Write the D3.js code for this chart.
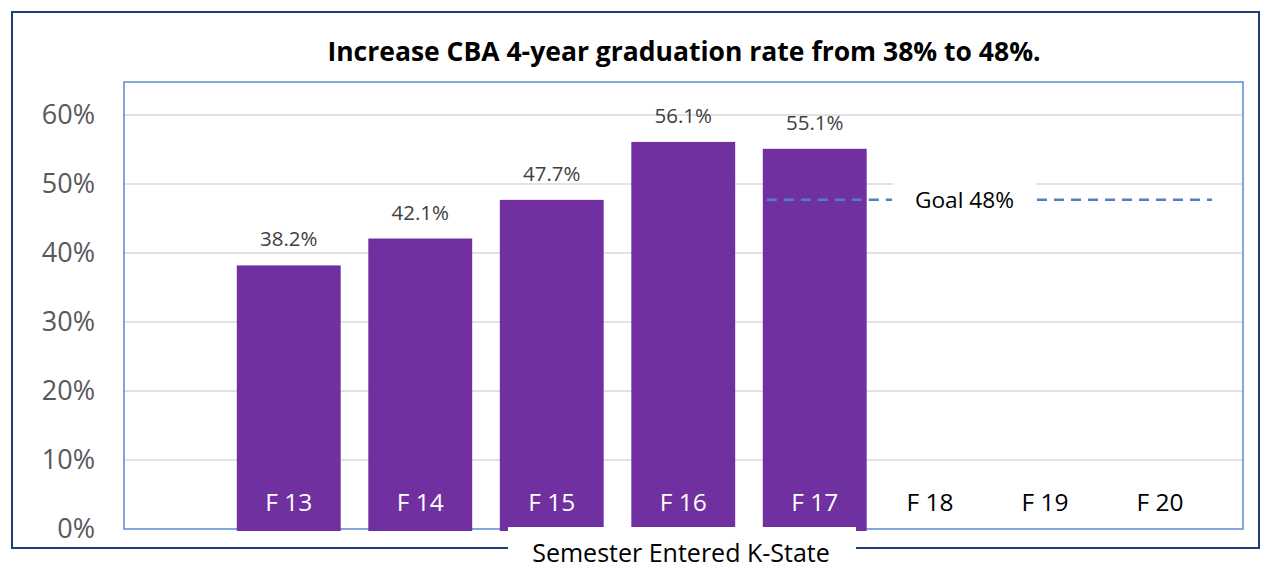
<!DOCTYPE html>
<html>
<head>
<meta charset="utf-8">
<script src="https://cdn.jsdelivr.net/npm/d3@7"></script>
<style>
  body { margin: 0; background: #fff; }
  svg { display: block; font-family: "Open Sans", sans-serif; }
</style>
</head>
<body>
<div id="chart"></div>
<script>
// chart data
const barCats = ['F 13', 'F 14', 'F 15', 'F 16', 'F 17'];
const gradRates = [38.2, 42.1, 47.7, 56.1, 55.1];
const futureCats = ['F 18', 'F 19', 'F 20'];
const yTicks = [0, 10, 20, 30, 40, 50, 60];
const goalValue = 48;
const titleText = 'Increase CBA 4-year graduation rate from 38% to 48%.';
const xTitle = 'Semester Entered K-State';

const W = 1272, H = 569;
const plot = { left: 124, right: 1243, top: 82, bottom: 529 };

const svg = d3.select('#chart').append('svg')
    .attr('width', W)
    .attr('height', H);

const y = d3.scaleLinear().domain([0, 60]).range([plot.bottom, plot.bottom - 414]);

const x = d3.scaleBand()
    .domain(barCats)
    .range([223, 880.5])
    .paddingInner(0.21)
    .paddingOuter(0.105);

const xFuture = d3.scalePoint().domain(futureCats).range([930, 1160]);

// outer frame
svg.append('rect')
    .attr('x', 12).attr('y', 12)
    .attr('width', 1247).attr('height', 536)
    .attr('fill', 'none')
    .attr('stroke', '#1f3c78')
    .attr('stroke-width', 2);

// title
svg.append('text')
    .attr('x', 684).attr('y', 61)
    .attr('text-anchor', 'middle')
    .attr('font-size', 26.5)
    .attr('font-weight', 'bold')
    .attr('fill', '#000')
    .text(titleText);

// gridlines
svg.append('g').selectAll('line')
    .data(yTicks.filter(d => d > 0))
    .enter().append('line')
    .attr('x1', plot.left).attr('x2', plot.right)
    .attr('y1', d => y(d)).attr('y2', d => y(d))
    .attr('stroke', '#d9d9d9')
    .attr('stroke-width', 1.5);

// plot border
svg.append('rect')
    .attr('x', plot.left).attr('y', plot.top)
    .attr('width', plot.right - plot.left).attr('height', plot.bottom - plot.top)
    .attr('fill', 'none')
    .attr('stroke', '#5b8ccb')
    .attr('stroke-width', 1.5);

// y axis
const yAxis = svg.append('g')
    .attr('transform', `translate(${plot.left - 29},0)`)
    .call(d3.axisLeft(y).tickValues(yTicks).tickSize(0).tickPadding(0).tickFormat(d => d + '%'));
yAxis.select('.domain').remove();
yAxis.selectAll('text')
    .attr('font-family', '"Open Sans", sans-serif')
    .attr('font-size', 27)
    .attr('fill', '#595959');

// bars
svg.append('g').selectAll('rect')
    .data(barCats)
    .enter().append('rect')
    .attr('x', d => x(d))
    .attr('y', (d, i) => y(gradRates[i]))
    .attr('width', x.bandwidth())
    .attr('height', (d, i) => y(0) - y(gradRates[i]) + 2)
    .attr('fill', '#7030a0');

// goal line
const goalY = y(goalValue) + 2;
const goalBox = { x0: 892, x1: 1037 };
const dash = svg.append('g')
    .attr('stroke', '#4f81bd')
    .attr('stroke-width', 2.5)
    .attr('stroke-dasharray', '10,7');
dash.append('line')
    .attr('x1', x('F 17') + 4).attr('x2', goalBox.x0)
    .attr('y1', goalY).attr('y2', goalY);
dash.append('line')
    .attr('x1', goalBox.x1).attr('x2', xFuture('F 20') + 52)
    .attr('y1', goalY).attr('y2', goalY);

svg.append('rect')
    .attr('x', goalBox.x0 + 1).attr('y', y(50) - 8)
    .attr('width', goalBox.x1 - goalBox.x0 - 2).attr('height', 38)
    .attr('fill', '#fff');
svg.append('text')
    .attr('x', (goalBox.x0 + goalBox.x1) / 2).attr('y', goalY + 8)
    .attr('text-anchor', 'middle')
    .attr('font-size', 22.7)
    .attr('fill', '#000')
    .text('Goal ' + goalValue + '%');

// value labels
svg.append('g').selectAll('text')
    .data(barCats)
    .enter().append('text')
    .attr('x', d => x(d) + x.bandwidth() / 2)
    .attr('y', (d, i) => y(gradRates[i]) - 19)
    .attr('text-anchor', 'middle')
    .attr('font-size', 20.5)
    .attr('fill', '#404040')
    .text((d, i) => gradRates[i].toFixed(1) + '%');

// category labels inside bars
svg.append('g').selectAll('text')
    .data(barCats)
    .enter().append('text')
    .attr('x', d => x(d) + x.bandwidth() / 2)
    .attr('y', 511)
    .attr('text-anchor', 'middle')
    .attr('font-size', 24.5)
    .attr('fill', '#fff')
    .text(d => d);

// future semesters
svg.append('g').selectAll('text')
    .data(futureCats)
    .enter().append('text')
    .attr('x', d => xFuture(d))
    .attr('y', 511)
    .attr('text-anchor', 'middle')
    .attr('font-size', 24.5)
    .attr('fill', '#000')
    .text(d => d);

// x axis title box
svg.append('rect')
    .attr('x', 508).attr('y', 527)
    .attr('width', 348).attr('height', 42)
    .attr('fill', '#fff');
svg.append('text')
    .attr('x', 681).attr('y', 562)
    .attr('text-anchor', 'middle')
    .attr('font-size', 25)
    .attr('fill', '#000')
    .text(xTitle);
</script>
</body>
</html>
